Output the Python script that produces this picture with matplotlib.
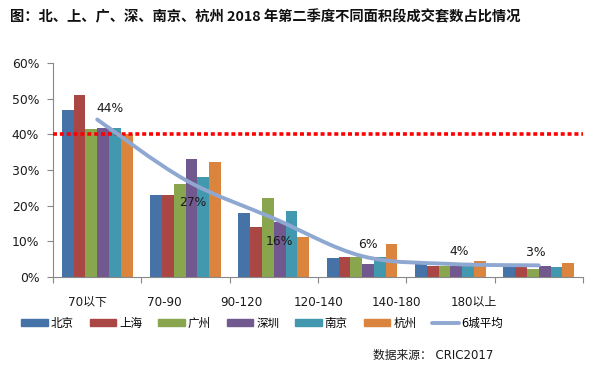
import matplotlib
matplotlib.use('Agg')
import matplotlib.pyplot as plt
import numpy as np
from matplotlib.path import Path
from matplotlib.patches import PathPatch, Rectangle
from matplotlib.lines import Line2D
from matplotlib.ticker import FuncFormatter

plt.rcParams['font.family'] = ['DejaVu Sans', 'Noto Sans CJK SC']

categories = ['70以下', '70-90', '90-120', '120-140', '140-180', '180以上']
cities = ['北京', '上海', '广州', '深圳', '南京', '杭州']
beijing = [47.0, 23.0, 17.9, 5.2, 3.8, 2.8]
shanghai = [51.2, 22.9, 14.0, 5.6, 3.1, 2.7]
guangzhou = [41.6, 26.0, 22.1, 5.5, 2.9, 2.1]
shenzhen = [41.9, 33.0, 15.4, 3.7, 3.1, 3.1]
nanjing = [41.8, 28.0, 18.6, 5.5, 3.1, 2.6]
hangzhou = [40.2, 32.2, 11.1, 9.1, 4.5, 3.8]
avg = [44.2, 27.2, 16.4, 5.8, 3.6, 3.2]
avg_labels = ['44%', '27%', '16%', '6%', '4%', '3%']
threshold = 40

colors = ['#4572A7', '#AA4643', '#89A54E', '#71588F', '#4198AF', '#DB843D']
line_color = '#8FA8D2'

fig = plt.figure(figsize=(5.96, 3.68), dpi=100)
ax = fig.add_axes([0.089, 0.248, 0.889, 0.58])

x = np.arange(len(categories))
series = [beijing, shanghai, guangzhou, shenzhen, nanjing, hangzhou]
w = 0.8 / 6
for k, vals in enumerate(series):
    ax.bar(x - 0.4 + w * (k + 0.5), vals, width=w, color=colors[k], zorder=2)

# red threshold line
ax.plot([-0.5, 5.5], [threshold, threshold], color='#FF0000', lw=2.6,
        linestyle=(0, (1.1, 0.8)), zorder=3)

# smoothed average line (catmull-rom as bezier)
pts = np.column_stack([x, avg]).astype(float)
verts = [pts[0]]
codes = [Path.MOVETO]
n = len(pts)
for i in range(n - 1):
    p0 = pts[max(i - 1, 0)]
    p1 = pts[i]
    p2 = pts[i + 1]
    p3 = pts[min(i + 2, n - 1)]
    c1 = p1 + (p2 - p0) / 6
    c2 = p2 - (p3 - p1) / 6
    verts += [c1, c2, p2]
    codes += [Path.CURVE4] * 3
ax.add_patch(PathPatch(Path(verts, codes), facecolor='none', edgecolor=line_color,
                       lw=2.8, capstyle='round', zorder=4))

# average labels
offsets = [(0.15, 3.2), (0.08, -6.3), (0.06, -6.5), (0.06, 3.3), (0.1, 3.4), (-0.03, 3.5)]
for i, lab in enumerate(avg_labels):
    ax.text(x[i] + offsets[i][0], avg[i] + offsets[i][1], lab, ha='center', va='center',
            fontsize=8.9, color='#1a1a1a', zorder=5)

ax.set_xlim(-0.5, 5.5)
ax.set_ylim(0, 60)
ax.set_yticks(np.arange(0, 61, 10))
ax.yaxis.set_major_formatter(FuncFormatter(lambda v, p: f'{int(v)}%'))
ax.set_xticks(np.arange(-0.5, 6, 1))
ax.set_xticklabels([])
ax.tick_params(axis='x', length=4, color='#888888')
ax.tick_params(axis='y', length=4, color='#888888', pad=6, labelsize=8.9, labelcolor='#1a1a1a')
for s in ['top', 'right']:
    ax.spines[s].set_visible(False)
for s in ['left', 'bottom']:
    ax.spines[s].set_color('#888888')

# category labels (spaced a little tighter than the groups, as in the original)
for i, cat in enumerate(categories):
    ax.text(0.064 + i * 0.1459, -0.119, cat, transform=ax.transAxes, ha='center',
            va='center', fontsize=8.6, color='#1a1a1a')

handles = [Rectangle((0, 0), 1, 1, color=c) for c in colors]
handles.append(Line2D([0], [0], color=line_color, lw=2.8, solid_capstyle='round'))
fig.legend(handles, cities + ['6城平均'], ncol=7, loc='center',
           bbox_to_anchor=(0.44, 0.122), frameon=False, fontsize=8.3,
           handlelength=2.3, handleheight=0.6, handletextpad=0.25, columnspacing=1.4)

fig.text(0.017, 0.954, '图：北、上、广、深、南京、杭州 2018 年第二季度不同面积段成交套数占比情况',
         fontsize=10.3, fontweight='bold', family=['Noto Sans CJK SC', 'DejaVu Sans'],
         ha='left', va='center', color='#111111')
fig.text(0.827, 0.035, '数据来源： CRIC2017', fontsize=8.5, ha='right', va='center',
         color='#1a1a1a')

fig.savefig('out.png', dpi=100)
